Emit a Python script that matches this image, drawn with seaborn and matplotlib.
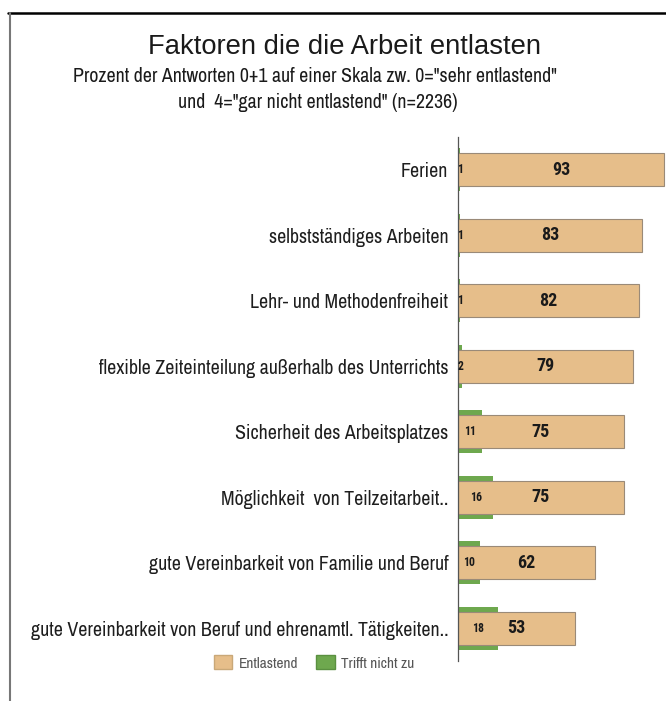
import matplotlib
matplotlib.use("Agg")
import matplotlib.pyplot as plt
import seaborn as sns
import pandas as pd
from matplotlib.patches import Patch
from matplotlib.lines import Line2D

categories = [
    "Ferien",
    "selbstständiges Arbeiten",
    "Lehr- und Methodenfreiheit",
    "flexible Zeiteinteilung außerhalb des Unterrichts",
    "Sicherheit des Arbeitsplatzes",
    "Möglichkeit  von Teilzeitarbeit..",
    "gute Vereinbarkeit von Familie und Beruf",
    "gute Vereinbarkeit von Beruf und ehrenamtl. Tätigkeiten..",
]
entlastend = [93, 83, 82, 79, 75, 75, 62, 53]
trifft_nicht_zu = [1, 1, 1, 2, 11, 16, 10, 18]

df = pd.DataFrame({"cat": categories, "ent": entlastend, "tnz": trifft_nicht_zu})

ORANGE = "#E6BE8A"
GREEN = "#6EA84E"
NARROW = ["Archivo Narrow", "DejaVu Sans"]
BOLDNARROW = ["Roboto Condensed", "Archivo Narrow", "DejaVu Sans"]
SANS = ["Liberation Sans", "DejaVu Sans"]

sns.set_style("white")
plt.rcParams["font.family"] = SANS

fig = plt.figure(figsize=(6.66, 7.01), dpi=100)
ax = fig.add_axes([458 / 666, 1 - 661 / 701, 208 / 666, 524 / 701])

sns.barplot(data=df, y="cat", x="tnz", orient="h", color=GREEN, width=0.66,
            saturation=1, ax=ax, edgecolor="none")
sns.barplot(data=df, y="cat", x="ent", orient="h", color=ORANGE, width=0.51,
            saturation=1, ax=ax, edgecolor="#9a8a78", linewidth=0.8)

ax.set_xlim(0, 94)
ax.set_ylim(len(categories) - 0.5, -0.5)
ax.set_xlabel("")
ax.set_ylabel("")
ax.set_xticks([])
ax.set_yticks(range(len(categories)))
ax.set_yticklabels(categories, fontsize=14.3, family=NARROW, color="#1e1e1e")
ax.tick_params(axis="y", which="major", length=0, pad=7)
ax.set_yticks([i + 0.5 for i in range(-1, len(categories))], minor=True)
ax.tick_params(axis="y", which="minor", length=5, width=0.8, color="#555555", direction="out")
for s in ["top", "right", "bottom"]:
    ax.spines[s].set_visible(False)
ax.spines["left"].set_color("#555555")
ax.spines["left"].set_linewidth(0.9)
ax.patch.set_alpha(0)

for i, (e, t) in enumerate(zip(entlastend, trifft_nicht_zu)):
    ax.text(e / 2, i, str(e), ha="center", va="center", fontsize=13,
            fontweight="bold", family=BOLDNARROW, color="#1a1a1a")
    ax.text(max(t / 2, 1.0), i, str(t), ha="center", va="center", fontsize=8.5,
            fontweight="bold", family=BOLDNARROW, color="#1a1a1a")

fig.text(0.517, 1 - 47 / 701, "Faktoren die die Arbeit entlasten", ha="center",
         va="center", fontsize=19.7, family=SANS, color="#1a1a1a")
fig.text(0.473, 1 - 77 / 701,
         'Prozent der Antworten 0+1 auf einer Skala zw. 0="sehr entlastend"',
         ha="center", va="center", fontsize=14.3, family=NARROW, color="#1a1a1a")
fig.text(0.477, 1 - 103 / 701,
         'und  4="gar nicht entlastend" (n=2236)',
         ha="center", va="center", fontsize=14.3, family=NARROW, color="#1a1a1a")

handles = [Patch(facecolor=ORANGE, edgecolor="#c9a878"),
           Patch(facecolor=GREEN, edgecolor="#5a9040")]
fig.legend(handles, ["Entlastend", "Trifft nicht zu"], loc="center",
           bbox_to_anchor=(314 / 666, 1 - 663 / 701), ncol=2, frameon=False,
           prop={"family": NARROW, "size": 11}, handlelength=1.2, handleheight=1.0,
           columnspacing=1.2, handletextpad=0.4, labelcolor="#555555")

fig.add_artist(Line2D([8 / 666, 1], [1 - 13 / 701, 1 - 13 / 701],
                      transform=fig.transFigure, color="black", lw=1.8))
fig.add_artist(Line2D([9.5 / 666, 9.5 / 666], [0, 1 - 13 / 701],
                      transform=fig.transFigure, color="#777777", lw=1.5))

fig.savefig("out.png", dpi=100)
